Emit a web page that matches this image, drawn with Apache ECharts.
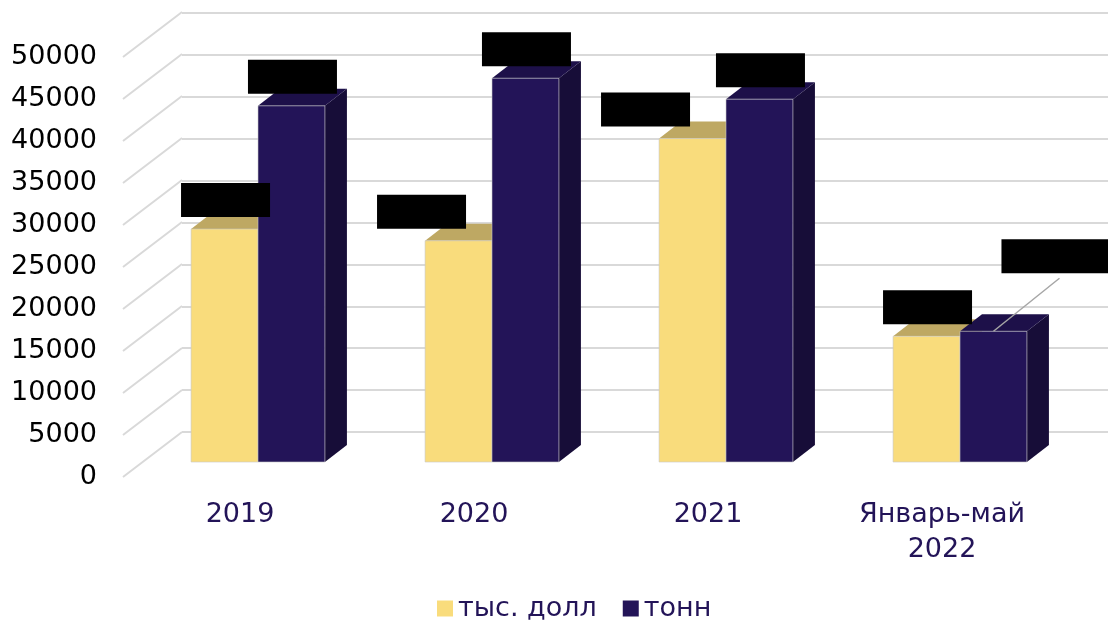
<!DOCTYPE html>
<html>
<head>
<meta charset="utf-8">
<script src="https://cdn.jsdelivr.net/npm/echarts@6/dist/echarts.min.js"></script>
<style>
html, body { margin: 0; padding: 0; background: #fff; }
#main { width: 1108px; height: 622px; }
</style>
</head>
<body>
<div id="main"></div>
<script>
// данные графика
var categories = ['2019', '2020', '2021', 'Январь-май\n2022'];
var usdValues = [27800, 26400, 38600, 15000];
var tonValues = [42500, 45800, 43300, 15600];
var seriesNames = ['тыс. долл', 'тонн'];
var yTicks = [0, 5000, 10000, 15000, 20000, 25000, 30000, 35000, 40000, 45000, 50000];

var FONT = 'DejaVu Sans';
var DX = 22, DY = -17;   // глубина столбика
// ручные сдвиги подписей (как в исходнике)
var NUDGE = { '0-1': -38, '0-2': -48 };

function barRenderer(seriesNo, front, topColor, sideColor) {
    return function (params, api) {
        var cat = api.value(0), val = api.value(1);
        var base = api.coord([cat, 0]);
        var top = api.coord([cat, val]);
        var w = api.size([1, 0])[0] * 0.286;
        var x0 = seriesNo === 0 ? base[0] - w : base[0];
        var x1 = x0 + w;
        var children = [
            { type: 'polygon', shape: { points: [[x1, base[1]], [x1 + DX, base[1] + DY], [x1 + DX, top[1] + DY], [x1, top[1]]] },
              style: { fill: sideColor } },
            { type: 'polygon', shape: { points: [[x0, top[1]], [x0 + DX, top[1] + DY], [x1 + DX, top[1] + DY], [x1, top[1]]] },
              style: { fill: topColor } },
            { type: 'rect', shape: { x: x0, y: top[1], width: w, height: base[1] - top[1] },
              style: { fill: front, stroke: 'rgba(200,200,200,0.6)', lineWidth: 1 } }
        ];
        // подписи значений (закрашены)
        var cx = (x0 + x1) / 2 + 1 + (NUDGE[seriesNo + '-' + params.dataIndex] || 0);
        var bx = cx - 44.5, by = top[1] - 12 - 34, bw = 89;
        if (seriesNo === 1 && params.dataIndex === 3) {
            children.push({ type: 'line', z2: 10, shape: { x1: cx - 1, y1: top[1], x2: cx + 65, y2: top[1] - 53 },
                style: { stroke: '#a6a6a6', lineWidth: 1.5 } });
            bx = cx + 7; by = top[1] - 92; bw = 110;
        }
        children.push({ type: 'rect', z2: 10, shape: { x: bx, y: by, width: bw, height: 34 }, style: { fill: '#000' } });
        children.push({ type: 'text', z2: 11, style: { text: String(val), x: bx + bw / 2, y: by + 17, align: 'center',
            verticalAlign: 'middle', fill: '#000', font: '20px ' + FONT } });
        return { type: 'group', children: children };
    };
}

function diagRenderer(params, api) {
    var p = api.coord([0, api.value(1)]);
    var x0 = p[0] - api.size([1, 0])[0] / 2;
    return { type: 'line', shape: { x1: x0, y1: p[1], x2: x0 + 59, y2: p[1] - 45 },
        style: { stroke: '#d9d9d9', lineWidth: 2 } };
}

var myChart = echarts.init(document.getElementById('main'));
var option = {
    animation: false,
    textStyle: { fontFamily: FONT },
    grid: [
        { left: 141, right: 31, top: 43, bottom: 160 },   // плоскость столбиков
        { left: 182, right: 0, top: 13, bottom: 190 },    // задняя стенка
        { left: 123, right: 49, top: 57, bottom: 145 }    // передняя плоскость (подписи)
    ],
    xAxis: [
        { gridIndex: 0, type: 'category', data: categories, show: false },
        { gridIndex: 1, type: 'value', show: false },
        { gridIndex: 2, type: 'category', data: categories,
          axisLine: { show: false }, axisTick: { show: false },
          axisLabel: { color: '#231458', fontSize: 27, margin: 20, lineHeight: 35, fontFamily: FONT } }
    ],
    yAxis: [
        { gridIndex: 0, type: 'value', min: 0, max: 50000, interval: 5000, show: false },
        { gridIndex: 1, type: 'value', min: 0, max: 50000, interval: 5000,
          axisLine: { show: false }, axisTick: { show: false }, axisLabel: { show: false },
          splitLine: { lineStyle: { color: '#d9d9d9', width: 2 } } },
        { gridIndex: 2, type: 'value', min: 0, max: 50000, interval: 5000,
          axisLine: { show: false }, axisTick: { show: false }, splitLine: { show: false },
          axisLabel: { color: '#000', fontSize: 27, margin: 26, fontFamily: FONT,
                       formatter: function (v) { return String(v); } } }
    ],
    legend: {
        top: 590,
        left: 432,
        padding: 5,
        itemWidth: 16, itemHeight: 16, itemGap: 26,
        icon: 'rect',
        data: seriesNames,
        textStyle: { color: '#231458', fontSize: 27, fontFamily: FONT }
    },
    series: [
        {
            type: 'custom', name: 'diag', xAxisIndex: 2, yAxisIndex: 2, silent: true, z: 1,
            renderItem: diagRenderer,
            data: yTicks.map(function (v) { return [0, v]; })
        },
        {
            type: 'custom', name: seriesNames[0], xAxisIndex: 0, yAxisIndex: 0, z: 3,
            itemStyle: { color: '#F9DC7C' },
            renderItem: barRenderer(0, '#F9DC7C', '#BEA863', '#B9A45E'),
            data: usdValues.map(function (v, i) { return [i, v]; })
        },
        {
            type: 'custom', name: seriesNames[1], xAxisIndex: 0, yAxisIndex: 0, z: 3,
            itemStyle: { color: '#231458' },
            renderItem: barRenderer(1, '#231458', '#1D1049', '#170D38'),
            data: tonValues.map(function (v, i) { return [i, v]; })
        }
    ]
};
myChart.setOption(option);
</script>
</body>
</html>
